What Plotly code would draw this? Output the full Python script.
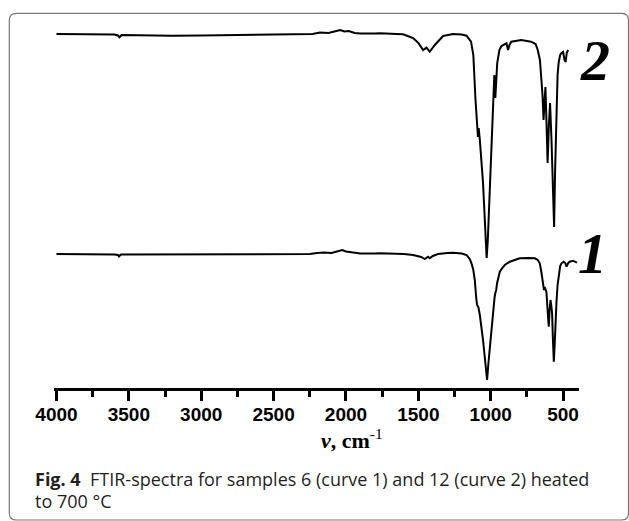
import plotly.graph_objects as go

# ---- data ----
wn_curve2 = [4000, 3800, 3600, 3575, 3565, 3550, 3400, 3200, 3000, 2800, 2500, 2300, 2230, 2180, 2120,
             2080, 2040, 2010, 1980, 1940, 1900, 1800, 1766, 1650, 1605, 1536, 1500, 1467, 1444, 1421,
             1386, 1329, 1260, 1200, 1167, 1136, 1120, 1105, 1095, 1088, 1083, 1075, 1053, 1035, 1028,
             1020, 1010, 995, 985, 975, 968, 962, 955, 940, 926, 891, 880, 870, 858, 789, 721, 690, 675,
             660, 650, 642, 635, 628, 622, 615, 607, 598, 590, 580, 570, 562, 555, 546, 538, 530, 520,
             511, 500, 490, 482, 475, 465]
t_curve2 = [354, 354, 353.5, 352.5, 350.7, 353, 352.5, 352.3, 352.5, 353, 353.5, 353.5, 354, 355.5, 355,
            356.5, 358, 356.5, 357, 355, 354.5, 354.5, 354.7, 354, 353.7, 350, 345, 338, 340.3, 336.3,
            343, 352, 354, 353.5, 352.3, 346.3, 333, 288, 270, 251, 260, 248, 205, 153, 130,
            148, 183, 238, 280, 313, 290, 308, 325, 338, 342, 344.7, 338, 343, 346.3, 348, 346.3, 344, 338,
            328, 308, 293, 268, 293, 301, 268, 225, 263, 285, 248, 188, 161, 218, 288, 313, 326, 333,
            335, 336, 328, 326, 335, 338]

wn_curve1 = [4000, 3800, 3600, 3575, 3568, 3555, 3300, 3000, 2700, 2400, 2250, 2200, 2150, 2100, 2050,
             2025, 2000, 1970, 1900, 1800, 1766, 1600, 1536, 1480, 1456, 1433, 1421, 1400, 1364, 1300,
             1260, 1200, 1167, 1145, 1133, 1120, 1110, 1100, 1094, 1085, 1075, 1053, 1035, 1025, 1015,
             1005, 995, 980, 973, 968, 962, 956, 947, 937, 920, 903, 868, 830, 799, 740, 695, 675, 661,
             650, 638, 632, 627, 620, 615, 607, 599, 593, 587, 581, 576, 570, 564, 558, 552, 546, 538,
             530, 520, 511, 495, 485, 476, 465, 455, 432, 415, 404]
t_curve1 = [134, 134, 133.5, 133, 131.5, 133.5, 133.5, 133.5, 134, 134, 134, 135, 135.5, 135, 136.5,
            138, 136.5, 136, 134.5, 134.5, 134.7, 134, 133, 131, 129, 131.3, 129.7, 132, 134, 135,
            135.3, 134.5, 133, 129, 124.7, 118, 108, 90, 83, 80.7, 73, 48, 20, 8, 26,
            43, 58, 83, 91, 95, 98, 104.7, 112, 116.3, 120, 123, 126.3, 128.5, 129.7, 130, 129.7, 128, 124.7,
            116, 104.7, 98, 101, 98, 96, 78, 61.3, 78, 88, 82, 75, 48, 26.3, 43, 68, 85, 103,
            114.7, 122, 124.7, 126.3, 125, 121.3, 125, 126.3, 127.3, 126.5, 125.3]

x_ticks = [4000, 3500, 3000, 2500, 2000, 1500, 1000, 500]
curve_labels = ["2", "1"]

# ---- layout geometry (pixels) ----
W, H = 629, 521
L, R, T, B = 54, 50, 20, 133
PW, PH = W - L - R, H - T - B


def px(x):
    return (x - L) / PW


def py(y):
    return (H - B - y) / PH


fig = go.Figure()
for wn, t in [(wn_curve2, t_curve2), (wn_curve1, t_curve1)]:
    fig.add_trace(go.Scatter(x=wn, y=t, mode="lines",
                             line=dict(color="black", width=2), showlegend=False,
                             hoverinfo="skip"))

# rounded frame around figure + caption
x0, y0, x1, y1, r = 9.3, 13.3, 628.5, 520.0, 7
path = (f"M {px(x0 + r)},{py(y0)} L {px(x1 - r)},{py(y0)} Q {px(x1)},{py(y0)} {px(x1)},{py(y0 + r)} "
        f"L {px(x1)},{py(y1 - r)} Q {px(x1)},{py(y1)} {px(x1 - r)},{py(y1)} "
        f"L {px(x0 + r)},{py(y1)} Q {px(x0)},{py(y1)} {px(x0)},{py(y1 - r)} "
        f"L {px(x0)},{py(y0 + r)} Q {px(x0)},{py(y0)} {px(x0 + r)},{py(y0)} Z")
fig.add_shape(type="path", path=path, xref="paper", yref="paper",
              line=dict(color="#777777", width=1.2), layer="below")

serif = "Liberation Serif, Times New Roman, serif"
annots = [
    dict(x=px(595), y=py(60), text=f"<b><i>{curve_labels[0]}</i></b>"),
    dict(x=px(592), y=py(253), text=f"<b><i>{curve_labels[1]}</i></b>"),
]
for a in annots:
    fig.add_annotation(xref="paper", yref="paper", showarrow=False, xanchor="center",
                       yanchor="middle", font=dict(family=serif, size=58, color="black"), **a)

fig.add_annotation(xref="paper", yref="paper", x=px(352), y=py(439), showarrow=False,
                   xanchor="center", yanchor="middle",
                   text="<b><i>ν</i>, cm</b><sup>-1</sup>",
                   font=dict(family=serif, size=22, color="black"))

cap_font = dict(family="Open Sans, Noto Sans, sans-serif", size=18, color="#231f20")
fig.add_annotation(xref="paper", yref="paper", x=px(33), y=py(479), showarrow=False,
                   xanchor="left", yanchor="middle",
                   text="<b>Fig. 4</b>  FTIR-spectra for samples 6 (curve 1) and 12 (curve 2) heated",
                   font=cap_font)
fig.add_annotation(xref="paper", yref="paper", x=px(33), y=py(501), showarrow=False,
                   xanchor="left", yanchor="middle", text="to 700 °C", font=cap_font)

fig.update_layout(
    width=W, height=H, margin=dict(l=L, r=R, t=T, b=B),
    paper_bgcolor="white", plot_bgcolor="white",
    xaxis=dict(range=[4017, 390], tickvals=x_ticks, ticktext=[str(v) for v in x_ticks],
               ticks="outside", ticklen=10, tickwidth=2.5, tickcolor="black",
               ticklabelstandoff=-3,
               showline=True, linewidth=2.5, linecolor="black", showgrid=False, zeroline=False,
               tickfont=dict(family="Liberation Sans, Arial, sans-serif", size=19, color="black",
                             weight="bold"),
               minor=dict(tickvals=[3750, 3250, 2750, 2250, 1750, 1250, 750], ticks="outside",
                          ticklen=6, tickwidth=2.5, tickcolor="black", showgrid=False)),
    yaxis=dict(range=[0, 368], visible=False, showgrid=False, zeroline=False),
)

fig.write_html("out.html", config={"displayModeBar": False},
               post_script="document.body.style.margin='0';document.body.style.padding='0';")
